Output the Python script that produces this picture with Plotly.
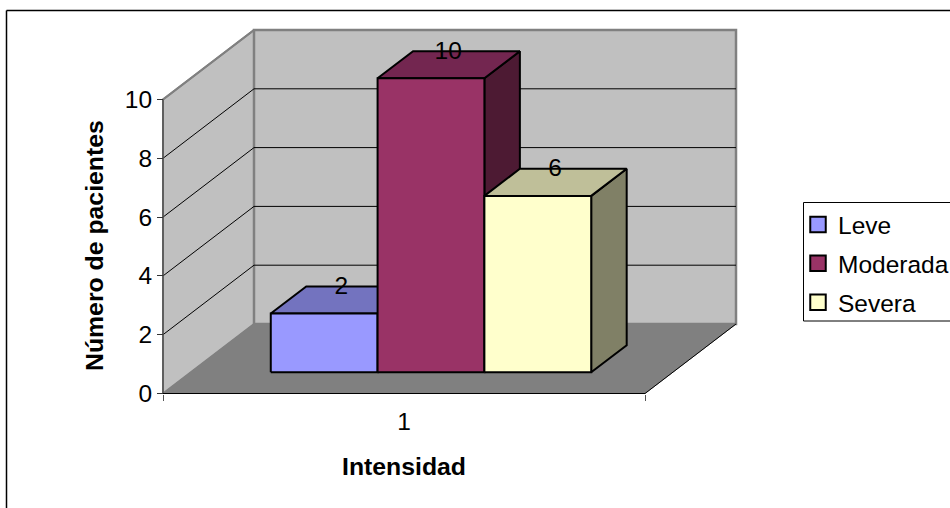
import plotly.graph_objects as go

# Chart content
categories = ["Leve", "Moderada", "Severa"]
values = [2, 10, 6]
face_colors = ["#9999FF", "#993366", "#FFFFCC"]
top_colors = ["#7373BF", "#732650", "#BFBF99"]
side_colors = ["#5C5C99", "#4D1A33", "#808066"]
y_ticks = [0, 2, 4, 6, 8, 10]
x_tick_label = "1"
x_title = "Intensidad"
y_title = "Número de pacientes"

# Page and oblique projection settings
W, H = 950, 508
X0_PX, X1_PX = 163, 645      # front edge of the floor
Y0_PX, UNIT_PX = 393.5, 29.4  # baseline and pixels per value unit
DEPTH_X_PX, DEPTH_Y_PX = 91, 69.5  # on-screen shift of the full chart depth
x_unit = X1_PX - X0_PX
DX = DEPTH_X_PX / x_unit
DY = DEPTH_Y_PX / UNIT_PX
Y_MAX = 10

BAR_START, BAR_WIDTH = 0.166, 0.2216
DEPTH_FRONT, DEPTH_BACK = 0.305, 0.695
FONT = "Liberation Sans, Arial, sans-serif"


def project(u, v, d):
    """Map width fraction u, value v and depth d to plot coordinates."""
    return u + d * DX, v + d * DY


def poly(points, fill, line_color="black", line_width=2):
    xs, ys = zip(*[project(*p) for p in points + points[:1]])
    return go.Scatter(x=xs, y=ys, mode="lines", fill="toself", fillcolor=fill,
                      line=dict(color=line_color, width=line_width),
                      hoverinfo="skip", showlegend=False)


def segment(a, b, color, width):
    xs, ys = zip(project(*a), project(*b))
    return go.Scatter(x=xs, y=ys, mode="lines", line=dict(color=color, width=width),
                      hoverinfo="skip", showlegend=False)


fig = go.Figure()

# Walls and floor
fig.add_trace(poly([(0, 0, 0), (0, Y_MAX, 0), (0, Y_MAX, 1), (0, 0, 1)], "#C0C0C0", "#808080", 2))
fig.add_trace(poly([(0, 0, 1), (0, Y_MAX, 1), (1, Y_MAX, 1), (1, 0, 1)], "#C0C0C0", "#808080", 2.5))
fig.add_trace(poly([(0, 0, 0), (1, 0, 0), (1, 0, 1), (0, 0, 1)], "#808080", "#808080", 1))

# Gridlines wrap around the side and back walls
for t in y_ticks[1:-1]:
    fig.add_trace(segment((0, t, 0), (0, t, 1), "black", 1))
    fig.add_trace(segment((0, t, 1), (1, t, 1), "black", 1))
fig.add_trace(segment((0, Y_MAX, 0), (0, Y_MAX, 1), "#808080", 2))
fig.add_trace(segment((0, Y_MAX, 1), (1, Y_MAX, 1), "#808080", 2))

# Axis lines on the front edges
fig.add_trace(segment((0, 0, 0), (0, Y_MAX, 0), "#555555", 1.5))
fig.add_trace(segment((0, 0, 0), (1, 0, 0), "black", 1))
fig.add_trace(segment((1, 0, 0), (1, 0, 1), "black", 1))

# Three-faced bars, drawn back to front along the width
label_x, label_y = [], []
for i, v in enumerate(values):
    a = BAR_START + i * BAR_WIDTH
    b = a + BAR_WIDTH
    f, k = DEPTH_FRONT, DEPTH_BACK
    fig.add_trace(poly([(b, 0, f), (b, v, f), (b, v, k), (b, 0, k)], side_colors[i]))
    fig.add_trace(poly([(a, v, f), (b, v, f), (b, v, k), (a, v, k)], top_colors[i]))
    fig.add_trace(poly([(a, 0, f), (b, 0, f), (b, v, f), (a, v, f)], face_colors[i]))
    lx, ly = project((a + b) / 2, v, k)
    label_x.append(lx - 0.038)
    label_y.append(ly - 0.05)

fig.add_trace(go.Scatter(x=label_x, y=label_y, mode="text",
                         text=[str(v) for v in values],
                         textposition="middle center",
                         textfont=dict(family=FONT, size=24.5, color="black"),
                         hoverinfo="skip", showlegend=False))

# Legend entries
for name, color in zip(categories, face_colors):
    fig.add_trace(go.Scatter(x=[None], y=[None], mode="markers", name=name, legendgroup=name,
                             marker=dict(symbol="square", size=15.5, color=color,
                                         line=dict(color="black", width=2))))

fig.update_layout(
    width=W, height=H, margin=dict(l=0, r=0, t=0, b=0, autoexpand=False),
    paper_bgcolor="white", plot_bgcolor="white",
    font=dict(family=FONT, size=24.5, color="black"),
    xaxis=dict(range=[-X0_PX / x_unit, (W - X0_PX) / x_unit], domain=[0, 1],
               anchor="free", position=1 - Y0_PX / H,
               showgrid=False, zeroline=False, showline=False, ticks="",
               tickvals=[0.5], ticktext=[x_tick_label], ticklabelstandoff=11,
               minor=dict(tickvals=[0, 1], ticks="outside", ticklen=6, tickcolor="#555555", tickwidth=1)),
    yaxis=dict(range=[-(H - Y0_PX) / UNIT_PX, Y0_PX / UNIT_PX], domain=[0, 1],
               anchor="free", position=X0_PX / W,
               showgrid=False, zeroline=False, showline=False,
               tickvals=y_ticks, ticks="outside", ticklen=6, tickcolor="#333333", tickwidth=1),
    legend=dict(x=798 / W, xanchor="left", y=1 - 202 / H, yanchor="top",
                bgcolor="rgba(0,0,0,0)", borderwidth=0, itemwidth=30,
                tracegroupgap=4, font=dict(size=24.5, family=FONT)),
    annotations=[
        dict(text=x_title, xref="paper", yref="paper", x=404 / W, y=1 - 466 / H,
             xanchor="center", yanchor="middle", showarrow=False,
             font=dict(size=24.8, family=FONT, weight="bold")),
        dict(text=y_title, xref="paper", yref="paper", x=94 / W, y=1 - 246 / H,
             xanchor="center", yanchor="middle", showarrow=False, textangle=-90,
             font=dict(size=24.8, family=FONT, weight="bold")),
    ],
    shapes=[
        # Outer frame, open at the page edges
        dict(type="line", xref="paper", yref="paper", x0=6.5 / W, x1=1, y0=1 - 10.5 / H, y1=1 - 10.5 / H,
             line=dict(color="black", width=1.5)),
        dict(type="line", xref="paper", yref="paper", x0=6.5 / W, x1=6.5 / W, y0=1 - 10.5 / H, y1=0,
             line=dict(color="black", width=1.5)),
        # Legend frame
        dict(type="rect", xref="paper", yref="paper", x0=803.5 / W, x1=1.01, y0=1 - 202.5 / H, y1=1 - 321 / H,
             line=dict(color="black", width=1)),
    ],
)

fig.write_html("out.html")
